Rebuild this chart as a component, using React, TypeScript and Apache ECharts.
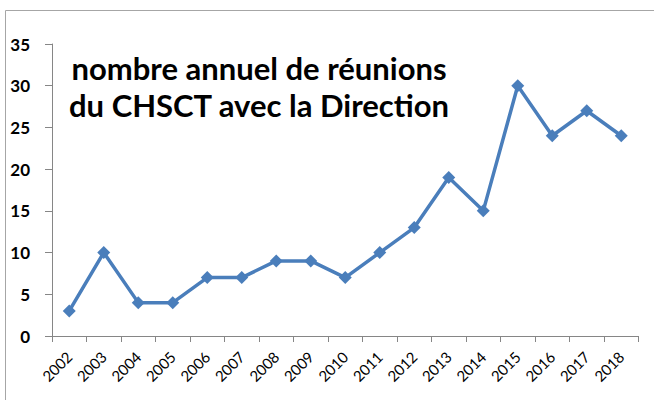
import React, { useEffect, useRef } from "react";
import * as echarts from "echarts";

const years = ["2002","2003","2004","2005","2006","2007","2008","2009","2010","2011","2012","2013","2014","2015","2016","2017","2018"];
const meetings = [3, 10, 4, 4, 7, 7, 9, 9, 7, 10, 13, 19, 15, 30, 24, 27, 24];
const titleLines = ["nombre annuel de réunions", "du CHSCT avec la Direction"];

export default function App() {
  const ref = useRef<HTMLDivElement>(null);
  useEffect(() => {
    if (!ref.current) return;
    const chart = echarts.init(ref.current, null, { renderer: "svg" });
    chart.setOption({
      animation: false,
      backgroundColor: "#ffffff",
      grid: { left: 52, right: 15.5, top: 44, bottom: 64, containLabel: false },
      xAxis: {
        type: "category",
        data: years,
        boundaryGap: true,
        axisLine: { lineStyle: { color: "#868686", width: 1 } },
        axisTick: { show: true, length: 6, alignWithLabel: false, lineStyle: { color: "#868686" } },
        axisLabel: { rotate: 45, fontFamily: "Lato", fontSize: 15, color: "#000", margin: 18, interval: 0 },
        splitLine: { show: false },
      },
      yAxis: {
        type: "value",
        min: 0,
        max: 35,
        interval: 5,
        axisLine: { show: true, lineStyle: { color: "#868686", width: 1 } },
        axisTick: { show: true, length: 7, lineStyle: { color: "#868686" } },
        axisLabel: { fontFamily: "Lato", fontSize: 17, fontWeight: "bold", color: "#000", margin: 22 },
        splitLine: { show: false },
      },
      series: [
        {
          type: "line",
          data: meetings,
          symbol: "diamond",
          symbolSize: 13,
          itemStyle: { color: "#4A7EBB" },
          lineStyle: { color: "#4A7EBB", width: 3.5 },
        },
      ],
      graphic: [
        {
          type: "rect",
          shape: { x: 5.5, y: 10.5, width: 800, height: 600 },
          style: { fill: "none", stroke: "#a6a6a6", lineWidth: 1 },
          silent: true,
        },
        {
          type: "text",
          x: 259,
          y: 49,
          style: {
            text: titleLines.join("\n"),
            fontFamily: "Lato",
            fontWeight: "bold",
            fontSize: 31,
            lineHeight: 37,
            fill: "#000",
            align: "center",
            verticalAlign: "top",
          },
        },
      ],
    });
    return () => chart.dispose();
  }, []);
  return <div ref={ref} style={{ position: "absolute", left: 0, top: 0, width: 654, height: 400 }} />;
}
